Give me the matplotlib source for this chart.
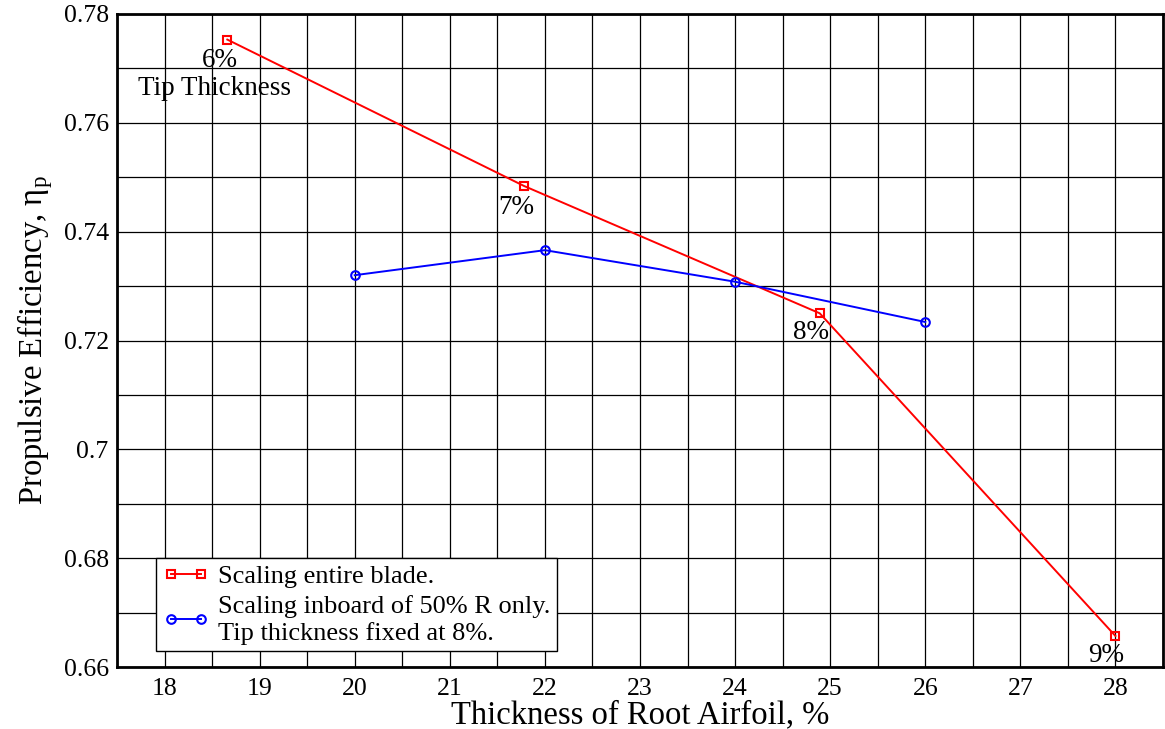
import matplotlib
matplotlib.use("Agg")
import matplotlib.pyplot as plt
import numpy as np

plt.rcParams['font.family'] = ['Liberation Serif', 'DejaVu Serif']
plt.rcParams['mathtext.fontset'] = 'custom'
plt.rcParams['mathtext.rm'] = 'Liberation Serif'

# Data
red_x = [18.66, 21.78, 24.89, 28.0]
red_y = [0.7753, 0.7484, 0.7250, 0.6657]
red_labels = ["6%", "7%", "8%", "9%"]
blue_x = [20, 22, 24, 26]
blue_y = [0.7320, 0.7366, 0.7308, 0.7234]
x_ticks = [18, 19, 20, 21, 22, 23, 24, 25, 26, 27, 28]
y_ticks = [0.66, 0.68, 0.70, 0.72, 0.74, 0.76, 0.78]
y_ticklabels = ["0.66", "0.68", "0.7", "0.72", "0.74", "0.76", "0.78"]

fig = plt.figure(figsize=(11.65, 7.29), dpi=100)
ax = fig.add_axes([117/1165, 1-667/729, (1163-117)/1165, (667-14)/729])

ax.set_xlim(17.5, 28.5)
ax.set_ylim(0.66, 0.78)
ax.set_xticks(x_ticks)
ax.set_yticks(y_ticks)
ax.set_yticklabels(y_ticklabels)
ax.set_xticks(np.arange(17.5, 28.6, 0.5), minor=True)
ax.set_yticks(np.arange(0.66, 0.7801, 0.01), minor=True)
ax.grid(True, which='both', color='black', linewidth=0.9)
ax.set_axisbelow(True)
ax.tick_params(which='both', direction='in', top=True, right=True, length=0, labelsize=18.5)
ax.tick_params(axis='x', pad=8)
ax.tick_params(axis='y', pad=6)
for s in ax.spines.values():
    s.set_linewidth(2)

ax.plot(red_x, red_y, color='red', lw=1.4, marker='s', ms=6, mfc='none', mew=1.5,
        label='Scaling entire blade.')
ax.plot(blue_x, blue_y, color='blue', lw=1.4, marker='o', ms=6.2, mfc='none', mew=1.5,
        label='Scaling inboard of 50% R only.\nTip thickness fixed at 8%.')

offsets = [(-0.08, -0.0038), (-0.08, -0.0039), (-0.09, -0.0035), (-0.10, -0.0035)]
for x, y, t, (dx, dy) in zip(red_x, red_y, red_labels, offsets):
    ax.text(x + dx, y + dy, t, ha='center', va='center', fontsize=19.5)
ax.text(18.53, 0.7664, "Tip Thickness", ha='center', va='center', fontsize=19.5)

ax.set_xlabel("Thickness of Root Airfoil, %", fontsize=23.5, labelpad=0)
ax.set_ylabel(r"Propulsive Efficiency, η$_\mathrm{p}$", fontsize=23.5, labelpad=6)

leg = ax.legend(loc='lower left', bbox_to_anchor=(0.41/11, 0.0029/0.12),
                fontsize=19, numpoints=2, frameon=True, fancybox=False,
                edgecolor='black', borderpad=0.25, handlelength=1.75,
                labelspacing=0.25, handletextpad=0.35, borderaxespad=0)
leg.get_frame().set_linewidth(1.0)
leg.get_frame().set_alpha(1)

fig.savefig("out.png", dpi=100)
